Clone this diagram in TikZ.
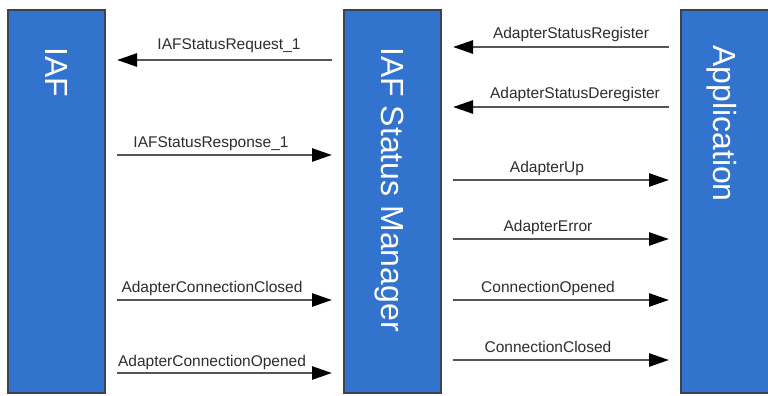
\documentclass[tikz,border=0pt]{standalone}
\usepackage{fontspec}
\setmainfont{Liberation Sans}
\usetikzlibrary{arrows.meta}
\definecolor{barblue}{RGB}{50,115,205}
\definecolor{barline}{RGB}{60,68,80}
\definecolor{msgline}{RGB}{85,85,85}
\definecolor{msgtext}{RGB}{45,45,45}
\begin{document}
\begin{tikzpicture}[x=1pt,y=-1pt,
  bar/.style={draw=barline, line width=1.5pt, fill=barblue, minimum height=383pt, inner sep=0pt, outer sep=0pt},
  bigtext/.style={text=white, font=\fontsize{32}{32}\selectfont, rotate=-90, inner sep=0pt, anchor=base west},
  msg/.style={draw=msgline, line width=2.6pt, -{Triangle[length=20pt,width=13pt,color=black]}, shorten <=12pt, shorten >=12pt},
  lbl/.style={text=msgtext, font=\fontsize{15.5}{15.5}\selectfont, inner sep=0pt, anchor=base}]
\useasboundingbox (0,0) rectangle (768,396);
\clip (0,0) rectangle (768,396);
\fill[white] (0,0) rectangle (768,396);
% bars
\node[bar, minimum width=97pt] (iaf) at (56.5,201.5) {};
\node[bar, minimum width=97pt] (mgr) at (392.5,201.5) {};
\node[bar, minimum width=110pt] (app) at (736,201.5) {};
\node[bigtext] (tiaf) at (45,47) {IAF};
\node[bigtext] (tmgr) at (381,47) {IAF Status Manager};
\node[bigtext] (tapp) at (713,45) {Application};
% left messages
\draw[msg] (mgr.west |- 0,60) -- (iaf.east |- 0,60);
\node[lbl] (l1) at (229,50) {IAFStatusRequest\_1};
\draw[msg] (iaf.east |- 0,155) -- (mgr.west |- 0,155);
\node[lbl] (l2) at (211,147) {IAFStatusResponse\_1};
\draw[msg] (iaf.east |- 0,300) -- (mgr.west |- 0,300);
\node[lbl] (l3) at (212,292.5) {AdapterConnectionClosed};
\draw[msg] (iaf.east |- 0,373) -- (mgr.west |- 0,373);
\node[lbl] (l4) at (212,366) {AdapterConnectionOpened};
% right messages
\draw[msg] (app.west |- 0,47) -- (mgr.east |- 0,47);
\node[lbl] (r1) at (571,39) {AdapterStatusRegister};
\draw[msg] (app.west |- 0,107) -- (mgr.east |- 0,107);
\node[lbl] (r2) at (575,99) {AdapterStatusDeregister};
\draw[msg] (mgr.east |- 0,180) -- (app.west |- 0,180);
\node[lbl] (r3) at (547,172) {AdapterUp};
\draw[msg] (mgr.east |- 0,239) -- (app.west |- 0,239);
\node[lbl] (r4) at (548,231.5) {AdapterError};
\draw[msg] (mgr.east |- 0,300) -- (app.west |- 0,300);
\node[lbl] (r5) at (548,292) {ConnectionOpened};
\draw[msg] (mgr.east |- 0,360) -- (app.west |- 0,360);
\node[lbl] (r6) at (548,352) {ConnectionClosed};
\end{tikzpicture}
\end{document}
